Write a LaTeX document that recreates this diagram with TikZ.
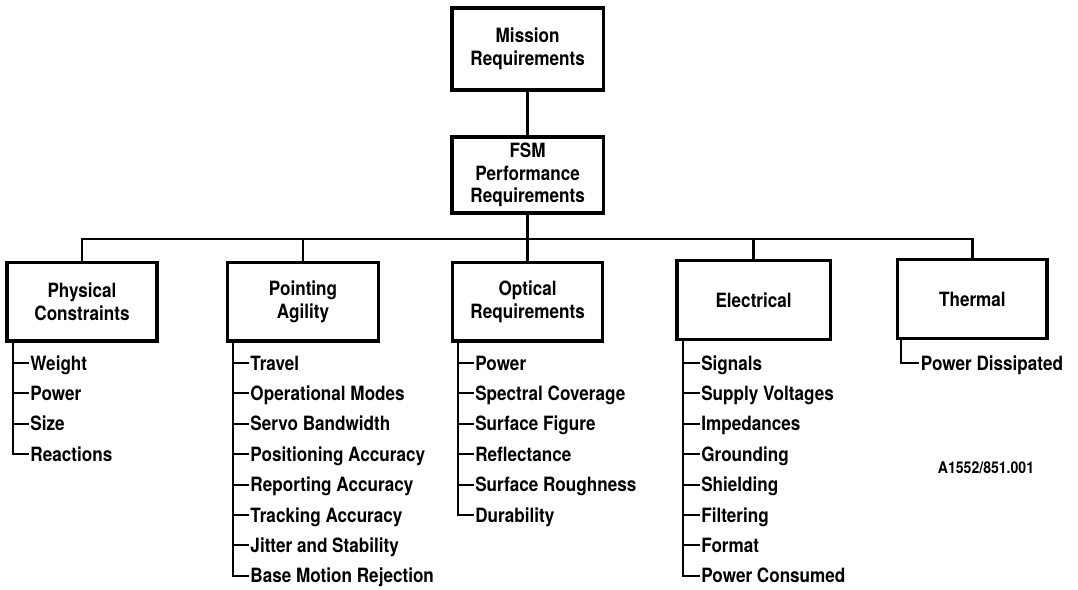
\documentclass[tikz,border=0pt]{standalone}
\usepackage{fontspec}
\setmainfont[FakeStretch=0.87]{TeX Gyre Heros}
\usepackage{tikz}
\usetikzlibrary{calc}

\begin{document}
\begin{tikzpicture}[
    reqbox/.style={
        draw=black,
        line width=2.2pt,
        align=center,
        font=\fontsize{14}{16}\selectfont\bfseries,
        minimum width=3.78cm,
        minimum height=1.97cm,
        inner sep=2pt
    },
    subitem/.style={
        anchor=west,
        font=\fontsize{14}{16}\selectfont\bfseries,
        text height=10pt,
        text depth=0pt,
        inner sep=1pt
    },
    link/.style={
        line width=1.6pt
    },
    branch/.style={
        line width=1.4pt,
        line cap=butt
    }
]
\path[use as bounding box] (0,0) rectangle (26.95,-14.75);

% top of the tree
\node[reqbox, minimum height=2.05cm] (mission) at (13.19,-1.225) {Mission\\Requirements};
\node[reqbox, minimum height=1.9cm] (fsm) at (13.19,-4.375) {FSM\\Performance\\Requirements};
\coordinate (bus) at (13.19,-5.975);

% requirement groups
\node[reqbox, minimum width=3.75cm] (phys) at (2.05,-7.54) {Physical\\Constraints};
\node[reqbox] (point) at (7.575,-7.54) {Pointing\\Agility};
\node[reqbox, minimum width=3.75cm] (optic) at (13.19,-7.54) {Optical\\Requirements};
\node[reqbox, minimum width=3.83cm] (elec) at (18.84,-7.5) {Electrical};
\node[reqbox, minimum width=3.73cm] (therm) at (24.31,-7.48) {Thermal};

\draw[link] (mission) -- (fsm);
\draw[link] (fsm) -- (bus);
\draw[link] (phys.north) -- (phys.north |- bus) -- (therm.north |- bus) -- (therm.north);
\draw[link] (point.north) -- (point.north |- bus);
\draw[link] (optic.north) -- (optic.north |- bus);
\draw[link] (elec.north) -- (elec.north |- bus);

% physical constraints
\coordinate (physT) at ([xshift=0.2cm]phys.south west);
\node[subitem] (phys1) at (0.72,-9.075) {Weight};
\node[subitem] (phys2) at (0.72,-9.835) {Power};
\node[subitem] (phys3) at (0.72,-10.595) {Size};
\node[subitem] (phys4) at (0.72,-11.355) {Reactions};
\draw[branch] (physT) |- (phys4.west);
\foreach \n in {phys1,phys2,phys3}
    \draw[branch] (\n.west -| physT) -- (\n.west);

% pointing agility
\coordinate (pointT) at ([xshift=0.18cm]point.south west);
\node[subitem] (point1) at (6.22,-9.075) {Travel};
\node[subitem] (point2) at (6.22,-9.835) {Operational Modes};
\node[subitem] (point3) at (6.22,-10.595) {Servo Bandwidth};
\node[subitem] (point4) at (6.22,-11.355) {Positioning Accuracy};
\node[subitem] (point5) at (6.22,-12.115) {Reporting Accuracy};
\node[subitem] (point6) at (6.22,-12.875) {Tracking Accuracy};
\node[subitem] (point7) at (6.22,-13.635) {Jitter and Stability};
\node[subitem] (point8) at (6.22,-14.395) {Base Motion Rejection};
\draw[branch] (pointT) |- (point8.west);
\foreach \n in {point1,point2,point3,point4,point5,point6,point7}
    \draw[branch] (\n.west -| pointT) -- (\n.west);

% optical requirements
\coordinate (opticT) at ([xshift=0.18cm]optic.south west);
\node[subitem] (optic1) at (11.84,-9.075) {Power};
\node[subitem] (optic2) at (11.84,-9.835) {Spectral Coverage};
\node[subitem] (optic3) at (11.84,-10.595) {Surface Figure};
\node[subitem] (optic4) at (11.84,-11.355) {Reflectance};
\node[subitem] (optic5) at (11.84,-12.115) {Surface Roughness};
\node[subitem] (optic6) at (11.84,-12.875) {Durability};
\draw[branch] (opticT) |- (optic6.west);
\foreach \n in {optic1,optic2,optic3,optic4,optic5}
    \draw[branch] (\n.west -| opticT) -- (\n.west);

% electrical
\coordinate (elecT) at ([xshift=0.18cm]elec.south west);
\node[subitem] (elec1) at (17.49,-9.075) {Signals};
\node[subitem] (elec2) at (17.49,-9.835) {Supply Voltages};
\node[subitem] (elec3) at (17.49,-10.595) {Impedances};
\node[subitem] (elec4) at (17.49,-11.355) {Grounding};
\node[subitem] (elec5) at (17.49,-12.115) {Shielding};
\node[subitem] (elec6) at (17.49,-12.875) {Filtering};
\node[subitem] (elec7) at (17.49,-13.635) {Format};
\node[subitem] (elec8) at (17.49,-14.395) {Power Consumed};
\draw[branch] (elecT) |- (elec8.west);
\foreach \n in {elec1,elec2,elec3,elec4,elec5,elec6,elec7}
    \draw[branch] (\n.west -| elecT) -- (\n.west);

% thermal
\coordinate (thermT) at ([xshift=0.13cm]therm.south west);
\node[subitem] (therm1) at (22.98,-9.075) {Power Dissipated};
\draw[branch] (thermT) |- (therm1.west);

\node[font=\fontsize{11.5}{13}\selectfont\bfseries] (figid) at (24.65,-11.7) {A1552/851.001};
\end{tikzpicture}
\end{document}
